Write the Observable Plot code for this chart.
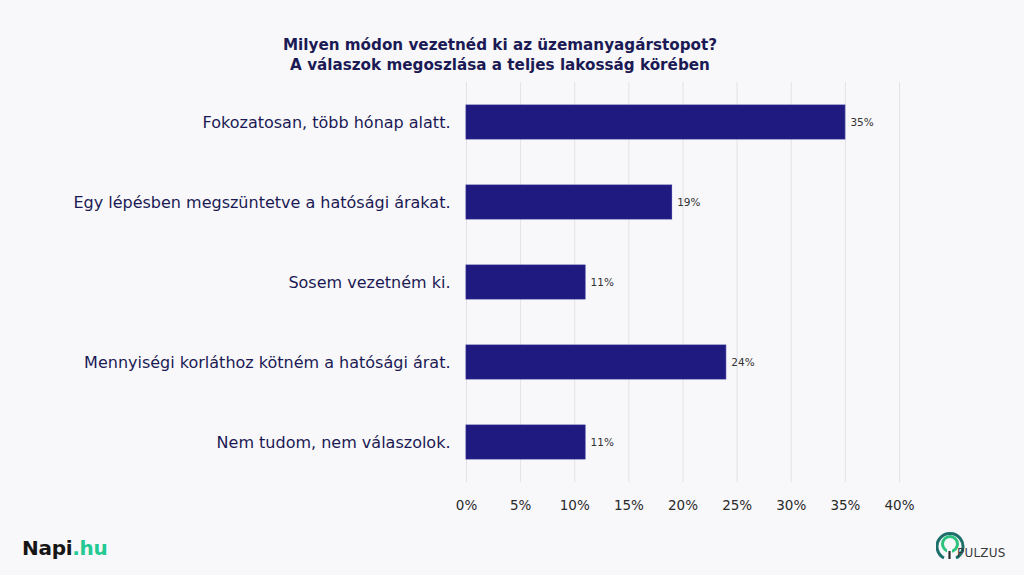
<!DOCTYPE html>
<html>
<head>
<meta charset="utf-8">
<script src="https://cdn.jsdelivr.net/npm/d3@7"></script>
<script src="https://cdn.jsdelivr.net/npm/@observablehq/plot@0.6"></script>
<style>
  html, body { margin: 0; padding: 0; background: #f8f8fa; }
  #wrap { position: relative; width: 1024px; height: 575px; overflow: hidden; font-family: "DejaVu Sans", sans-serif; }
  #title { position: absolute; left: 0; width: 1000px; top: 35px; text-align: center; color: #1b1a55; font-weight: bold; font-size: 15.2px; line-height: 20px; }
  #napi { position: absolute; left: 22px; top: 536px; font-family: "DejaVu Sans", sans-serif; font-weight: bold; font-size: 20px; color: #161616; letter-spacing: -0.3px; }
  #napi span { color: #22c993; }
  #pulzus { position: absolute; left: 936px; top: 527px; width: 86px; height: 40px; }
  #pulzus .txt { position: absolute; left: 21px; top: 19px; font-family: "DejaVu Sans", sans-serif; font-size: 12px; color: #3a3a3a; letter-spacing: 0.2px; }
  #chart { position: absolute; left: 0; top: 0; }
</style>
</head>
<body>
<div id="wrap">
  <div id="chart"></div>
  <div id="title">Milyen módon vezetnéd ki az üzemanyagárstopot?<br>A válaszok megoszlása a teljes lakosság körében</div>
  <div id="napi">Napi<span>.hu</span></div>
  <div id="pulzus">
    <svg width="30" height="36" style="position:absolute;left:0;top:0">
      <path d="M 8 31 A 13 13 0 1 1 20 31" fill="none" stroke="#1c6f6a" stroke-width="3"/>
      <circle cx="14" cy="17" r="7.5" fill="none" stroke="#2ec27e" stroke-width="3"/>
      <rect x="11" y="22" width="5" height="10" fill="#f8f8fa"/>
      <line x1="13.5" y1="24" x2="13.5" y2="32" stroke="#2b2b2b" stroke-width="2.2"/>
    </svg>
    <div class="txt">PULZUS</div>
  </div>
</div>
<script>
const categories = [
  "Fokozatosan, több hónap alatt.",
  "Egy lépésben megszüntetve a hatósági árakat.",
  "Sosem vezetném ki.",
  "Mennyiségi korláthoz kötném a hatósági árat.",
  "Nem tudom, nem válaszolok."
];
const values = [35, 19, 11, 24, 11];
const xTicks = [0, 5, 10, 15, 20, 25, 30, 35, 40];

const data = categories.map((c, i) => ({category: c, value: values[i]}));

const chart = Plot.plot({
  width: 1024,
  height: 575,
  marginLeft: 466,
  marginRight: 125,
  marginTop: 82,
  marginBottom: 93,
  style: { background: "transparent", fontFamily: "'DejaVu Sans', sans-serif" },
  x: { domain: [0, 40], ticks: xTicks, tickFormat: d => d + "%" },
  y: { domain: categories, paddingInner: 0.575, paddingOuter: 0.2875, label: null },
  marks: [
    Plot.ruleX(xTicks, { stroke: "#e2e2e6", strokeWidth: 1 }),
    Plot.barX(data, { x: "value", y: "category", fill: "#1e1a80", stroke: "#2a2690", strokeWidth: 0.8 }),
    Plot.text(data, { x: "value", y: "category", text: d => d.value + "%", textAnchor: "start", dx: 5, fontSize: 10.5, fill: "#333" }),
    Plot.axisY({ tickSize: 0, tickPadding: 16, fontSize: 16, color: "#1b1a55", label: null }),
    Plot.axisX({ ticks: xTicks, tickFormat: d => d + "%", tickSize: 0, tickPadding: 18, fontSize: 13.5, color: "#2a2a2a", label: null })
  ]
});
document.getElementById("chart").appendChild(chart);
</script>
</body>
</html>
